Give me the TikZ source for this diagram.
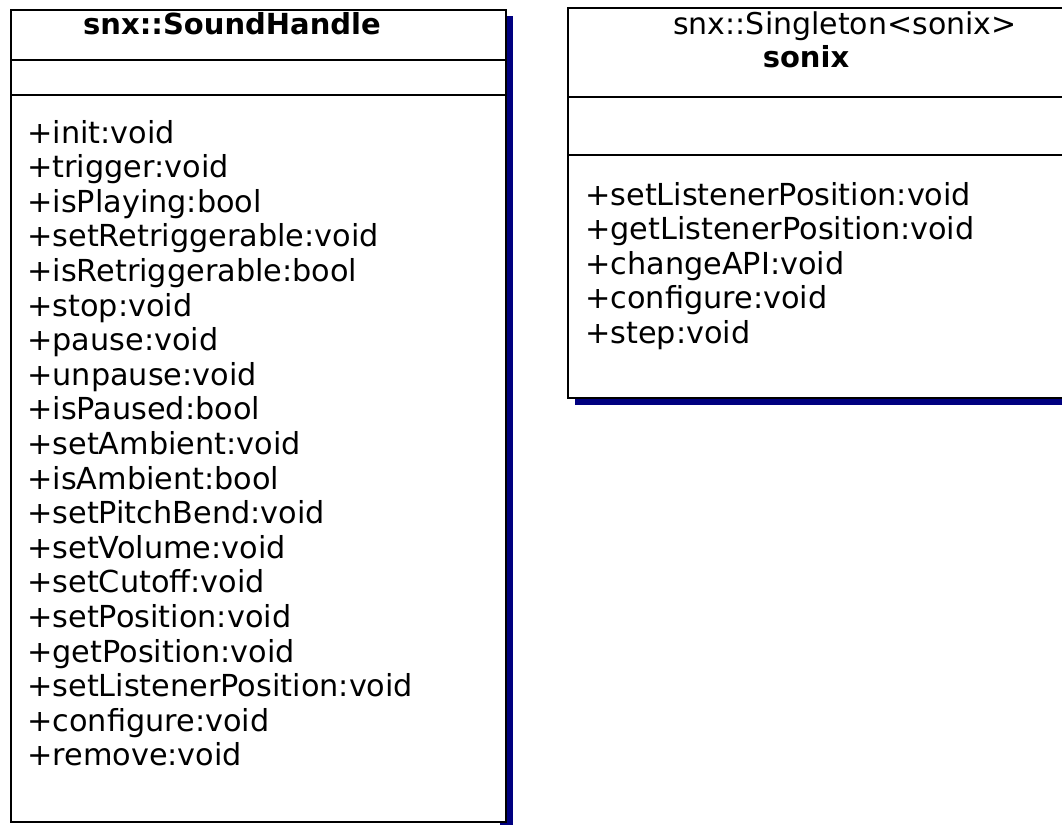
\documentclass[tikz,border=0pt]{standalone}
\usepackage{fontspec}
\setmainfont{DejaVu Sans}
\definecolor{navy}{RGB}{0,0,128}
\begin{document}
\begin{tikzpicture}[x=1pt,y=-1pt,
  classbox/.style={draw=black,line width=2.2pt,fill=white},
  shade/.style={fill=navy},
  divider/.style={draw=black,line width=2.2pt},
  member/.style={anchor=base west,inner sep=0pt,font=\fontsize{30.3}{34.6}\selectfont},
  cname/.style={anchor=base,inner sep=0pt,font=\fontsize{29}{34}\selectfont\bfseries},
  stereo/.style={anchor=base,inner sep=0pt,font=\fontsize{30}{34}\selectfont}]
\useasboundingbox (0,0) rectangle (1062,824);
\clip (0,0) rectangle (1062,824);
% left class
\fill[shade] (500,16) rectangle (513,832);
\draw[classbox] (11,10) rectangle (506,822);
\coordinate (l1a) at (11,60); \coordinate (l1b) at (506,60);
\coordinate (l2a) at (11,95); \coordinate (l2b) at (506,95);
\draw[divider] (l1a) -- (l1b);
\draw[divider] (l2a) -- (l2b);
\node[cname] (shtitle) at (232,35) {snx::SoundHandle};
\foreach \t [count=\i] in {+init:void,+trigger:void,+isPlaying:bool,+setRetriggerable:void,+isRetriggerable:bool,+stop:void,+pause:void,+unpause:void,+isPaused:bool,+setAmbient:void,+isAmbient:bool,+setPitchBend:void,+setVolume:void,+setCutoff:void,+setPosition:void,+getPosition:void,+setListenerPosition:void,+configure:void,+remove:void}
  \node[member] (sh\i) at (27,{143+(\i-1)*34.6}) {\t};
% right class
\fill[shade] (575,15) rectangle (1080,405);
\draw[classbox] (568,8) rectangle (1075,398);
\coordinate (r1a) at (568,97); \coordinate (r1b) at (1075,97);
\coordinate (r2a) at (568,155); \coordinate (r2b) at (1075,155);
\draw[divider] (r1a) -- (r1b);
\draw[divider] (r2a) -- (r2b);
\node[stereo] (sxstereo) at (845,35) {snx::Singleton<sonix>};
\node[cname] (sxtitle) at (806,68) {sonix};
\foreach \t [count=\i] in {+setListenerPosition:void,+getListenerPosition:void,+changeAPI:void,+configure:void,+step:void}
  \node[member] (sx\i) at (585,{205+(\i-1)*34.6}) {\t};
\end{tikzpicture}
\end{document}
